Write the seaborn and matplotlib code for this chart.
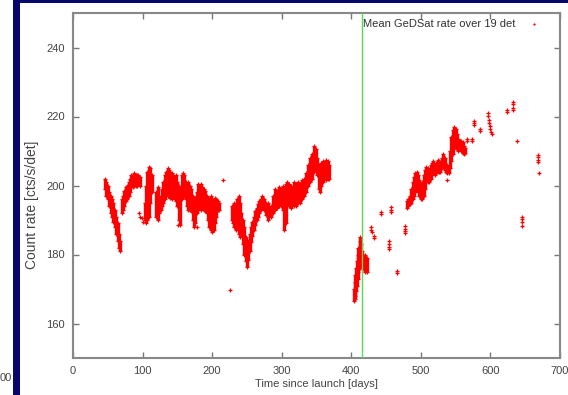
import numpy as np
import pandas as pd
import matplotlib
matplotlib.use("Agg")
import matplotlib.pyplot as plt
import seaborn as sns
from matplotlib.patches import Rectangle

# ---------------- data ----------------
# dense stretches: day, lower and upper edge of the cloud of points
band_days = [46, 48, 50, 52, 54, 56, 58, 60, 62, 64, 66, 67,
             70, 72, 74, 76, 78, 80, 82, 84, 86, 88, 90, 92, 94, 96,
             103, 105, 107, 109, 111, 113,
             120, 122, 124, 126, 128, 130, 132, 134, 136, 138, 140, 142, 144, 146, 148,
             150, 152, 154, 156, 158, 160, 162, 164, 166, 168, 170, 172, 174, 176, 178,
             180, 182, 184, 186, 188, 190, 192, 194, 196, 198, 200, 202, 204, 206, 208, 210,
             228, 230, 232, 234, 236, 238, 240,
             242, 244, 246, 248, 250, 252, 254, 256, 258, 260, 262, 264, 266, 268, 270, 272, 274,
             278, 281, 284, 287, 290, 293, 296, 299, 302, 304, 306, 308, 311, 314, 317, 320,
             323, 326, 329, 332, 335, 338, 341, 344, 347, 349, 351, 353, 355, 357, 360, 363, 366, 368,
             404, 405, 406, 407, 408, 409, 410, 411, 412, 413, 414, 415, 416, 418, 420, 422,
             480, 482, 484, 486, 488, 490, 492, 494, 496, 498, 500, 502, 504, 506, 508, 510,
             512, 514, 516, 518, 520, 522, 524, 526, 528, 530, 532, 534, 536, 538, 540,
             542, 544, 546, 548, 550, 552, 554, 556, 558, 560, 562, 564]
band_hi = [202, 201, 200, 198, 197, 196, 195, 193, 191, 189, 186, 184,
           196, 197, 198.5, 199.5, 200, 201, 202, 203, 203, 203.5, 203, 203, 203, 202.5,
           195, 200, 204, 205.5, 205, 203,
           198, 199.5, 197, 196, 199, 201, 203, 204, 205, 204.5, 204, 203.5, 203, 202, 203,
           201, 200, 199, 203, 203.5, 203, 201, 200.5, 201, 200, 199, 197, 196, 196.5, 198,
           200.5, 200, 200.5, 199.5, 199, 198.5, 197, 196.5, 196, 197, 196, 195.5, 196.5, 196, 195.5, 195,
           194, 193, 195, 194, 196, 197, 195,
           192, 190, 188, 185, 181, 184, 186, 188, 189.5, 191, 192.5, 193.5, 194.5, 195.5, 196, 197, 196,
           195, 195, 194, 197, 199, 198.5, 199.5, 199, 200, 198, 200.5, 201, 200.5, 200, 201, 200.5,
           201, 200.5, 201.5, 202, 203.5, 206, 208, 209, 211.5, 210.5, 208, 206, 204, 206.5, 207, 207.5, 207, 206,
           170, 172, 174, 176, 178, 180, 182, 182, 184, 185, 183, 181, 180, 179.5, 180, 179,
           195.5, 196, 197, 199, 201, 202.5, 203.5, 204, 203, 201.5, 200, 201, 203, 204.5, 205.5, 205,
           204, 206, 206.5, 207, 206, 206.5, 207.5, 207, 206.5, 208, 209, 208, 206, 206, 205,
           210, 214, 216, 217, 216.5, 215, 213.5, 213, 213, 212.5, 211.5, 211]
band_lo = [199, 197, 196, 194, 192, 191, 189.5, 188, 186, 184, 182, 181,
           192, 193, 194, 195.5, 196, 197, 198, 199.5, 199.5, 200, 200, 200, 200.5, 200,
           190, 189, 190, 191, 195, 198,
           191, 190, 192, 193, 194, 195, 196, 197, 197, 197, 196.5, 196, 197, 196, 195.5,
           194, 190, 188.5, 196, 197.5, 197, 196, 194, 193, 193, 192.5, 190, 188, 189, 192,
           193, 194, 193, 193.5, 193, 192.5, 192, 190, 188, 187, 186.5, 187, 189, 191, 193, 193,
           190, 189, 188, 187, 188.5, 186, 185,
           186, 183, 180, 178, 176.5, 178.5, 181, 183.5, 185.5, 187, 188.5, 190, 191, 192, 193, 194, 193,
           191.5, 190, 191, 192, 193, 193.5, 194, 194, 193, 187, 189, 194, 194, 193.5, 194, 194,
           195, 195, 196, 197, 198, 200, 201, 202, 204, 205, 203, 199, 198, 200, 201, 201.5, 202, 202,
           166.5, 167, 168, 169.5, 171, 173, 175, 176, 176, 177, 177.5, 176, 176, 175.5, 175, 175,
           193.5, 194, 194.5, 195, 196, 197, 198, 199, 198, 197, 196, 196, 197, 199, 201, 201,
           201, 202, 203, 203.5, 203, 203.5, 204, 204, 204, 205, 205.5, 204.5, 204, 203.5, 203.5,
           205, 207, 209, 211, 211, 210.5, 210, 210.5, 210, 209.5, 209.2, 209.5]

# isolated / sparse points
iso_days = [95, 97, 99, 101, 151, 178, 216, 225,
            429, 429, 430, 433, 433, 442, 442, 457, 457, 457, 454, 454, 454, 454,
            465.5, 465.5, 477, 477, 477, 477, 538,
            566, 566, 574, 574, 577, 577, 577, 585, 585,
            597, 597, 598, 598.5, 599, 600, 601, 602,
            624.5, 624.5, 633, 633, 633, 633, 638.5,
            645, 645, 645, 645, 669, 669, 669, 669, 670]
iso_rates = [192, 191, 190.5, 189.5, 188.5, 188, 201.5, 169.6,
             188, 187.2, 186.5, 185.3, 184.8, 192.3, 191.8, 193.8, 193, 192.3, 184, 183, 182.2, 181.5,
             175.3, 174.7, 188.2, 187.5, 186.8, 186.3, 201.6,
             213.5, 213, 213.5, 213, 218.8, 218.2, 217.6, 216.5, 215.8,
             221, 220.2, 219, 218, 217.2, 216.5, 215.5, 215,
             221.8, 221.2, 224.3, 223.5, 222.5, 221.8, 213,
             191, 190.3, 189.4, 188.4, 208.8, 208.2, 207.5, 206.8, 203.6]

event_day = 415
series_label = "Mean GeDSat rate over 19 det"
x_ticks = [0, 100, 200, 300, 400, 500, 600, 700]
y_ticks = [160, 180, 200, 220, 240]

# ---------------- figure ----------------
sns.set_theme(style="white")
plt.rcParams['font.family'] = ['Liberation Sans', 'DejaVu Sans']

W, H = 568, 395
fig = plt.figure(figsize=(W / 100, H / 100), dpi=100)
fig.patch.set_facecolor("white")

navy = "#07076b"
fig.patches.append(Rectangle((13 / W, 0), 7 / W, 1, transform=fig.transFigure,
                             facecolor=navy, edgecolor="none", zorder=0))
fig.patches.append(Rectangle((13 / W, 1 - 3 / H), 1, 3 / H, transform=fig.transFigure,
                             facecolor=navy, edgecolor="none", zorder=0))
fig.text(0 / W, 1 - 378 / H, "00", fontsize=8, color="#444444", va="center", ha="left")

ax = fig.add_axes([73 / W, 37 / H, 487 / W, 345 / H])

red = "#ff0000"
pts = pd.DataFrame({
    "day": list(band_days) + list(band_days) + list(iso_days),
    "rate": list(band_lo) + list(band_hi) + list(iso_rates),
})
ax.vlines(band_days, band_lo, band_hi, color=red, linewidth=2.4, zorder=2)
sns.scatterplot(data=pts, x="day", y="rate", marker="+", color=red, s=9,
                linewidth=0.9, ax=ax, label=series_label, zorder=3)
ax.axvline(event_day, color="#55dd55", linewidth=1.0, zorder=4)

ax.set_xlim(0, 700)
ax.set_ylim(150, 250)
ax.set_xticks(x_ticks)
ax.set_yticks(y_ticks)
ax.tick_params(direction="in", length=4, width=1, color="#777777",
               labelsize=8, labelcolor="#444444", top=True, right=True,
               bottom=True, left=True, pad=6)
ax.tick_params(axis="y", pad=6)
for sp in ax.spines.values():
    sp.set_color("#888888")
    sp.set_linewidth(1.5)

ax.set_xlabel("Time since launch [days]", fontsize=8, color="#444444")
ax.set_ylabel("Count rate [cts/s/det]", fontsize=10, color="#444444")
ax.xaxis.set_label_coords(0.5, -0.062)
ax.yaxis.set_label_coords(-0.07, 0.443)

leg = ax.legend(loc="upper right", frameon=False, markerfirst=False, fontsize=8,
                handletextpad=0.6, borderaxespad=0.1, markerscale=0.6,
                bbox_to_anchor=(0.98, 1.0))
for t in leg.get_texts():
    t.set_color("#333333")

fig.savefig("out.png", dpi=100, facecolor=fig.get_facecolor())
